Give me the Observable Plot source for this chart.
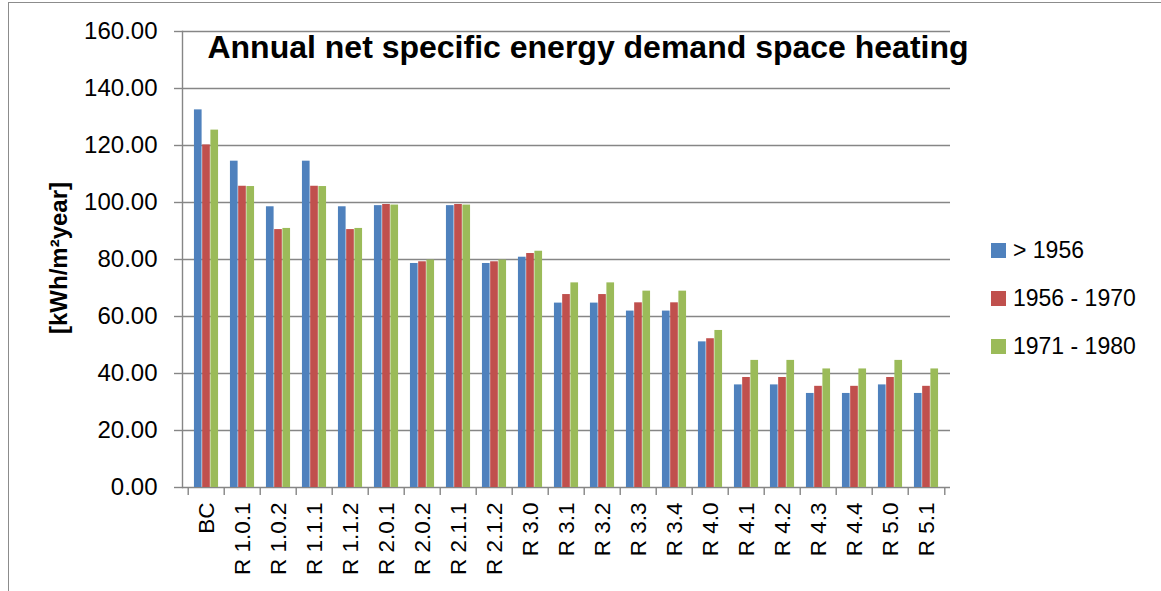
<!DOCTYPE html>
<html>
<head>
<meta charset="utf-8">
<script src="https://cdn.jsdelivr.net/npm/d3@7"></script>
<script src="https://cdn.jsdelivr.net/npm/@observablehq/plot@0.6"></script>
<style>
  html, body { margin: 0; padding: 0; background: #fff; }
  #wrap { position: relative; width: 1161px; height: 591px; overflow: hidden; }
  #border { position: absolute; left: 8px; top: 2px; width: 1200px; height: 700px;
            border-top: 1.5px solid #8c8c8c; border-left: 1.5px solid #8c8c8c; }
  svg { font-family: "Liberation Sans", Arial, sans-serif; }
</style>
</head>
<body>
<div id="wrap"><div id="border"></div></div>
<script>
const categories = ["BC","R 1.0.1","R 1.0.2","R 1.1.1","R 1.1.2","R 2.0.1","R 2.0.2","R 2.1.1","R 2.1.2","R 3.0","R 3.1","R 3.2","R 3.3","R 3.4","R 4.0","R 4.1","R 4.2","R 4.3","R 4.4","R 5.0","R 5.1"];
const series = ["> 1956", "1956 - 1970", "1971 - 1980"];
const valuesBefore1956 = [132.5,114.5,98.5,114.5,98.5,98.9,78.6,98.9,78.6,80.8,64.7,64.7,61.9,61.9,51.1,36.0,36.0,33.0,33.0,36.0,33.0];
const values1956to1970 = [120.2,105.7,90.5,105.7,90.5,99.3,79.2,99.3,79.2,82.1,67.7,67.7,64.8,64.8,52.2,38.6,38.6,35.5,35.5,38.6,35.5];
const values1971to1980 = [125.4,105.6,90.9,105.6,90.9,99.1,79.8,99.1,79.8,82.9,71.8,71.8,68.9,68.9,55.1,44.6,44.6,41.6,41.6,44.6,41.6];
const colors = ["#4F81BD", "#C0504D", "#9BBB59"];
const yTicks = [0, 20, 40, 60, 80, 100, 120, 140, 160];
const title = "Annual net specific energy demand space heating";
const yLabel = "[kWh/m²year]";

const seriesValues = [valuesBefore1956, values1956to1970, values1971to1980];
const rows = [];
series.forEach((s, si) => categories.forEach((c, ci) => rows.push({category: c, series: s, si, value: seriesValues[si][ci]})));

const W = 1161, H = 591;
const mL = 182, mR = 211, mT = 31, mB = 104;
const step = (W - mL - mR) / categories.length;
const barW = step * 0.225;
const groupPad = (step - 3 * barW) / 2;
const grid = "#868686";

const barMarks = series.map((s, si) => Plot.barY(rows.filter(d => d.si === si), {
  x: "category", y: "value", fill: colors[si],
  insetLeft: groupPad + si * barW,
  insetRight: step - (groupPad + (si + 1) * barW)
}));

const chart = Plot.plot({
  width: W, height: H,
  marginLeft: mL, marginRight: mR, marginTop: mT, marginBottom: mB,
  x: {domain: categories, padding: 0, label: null},
  y: {domain: [0, 160], label: null},
  marks: [
    Plot.gridY(yTicks, {stroke: grid, strokeOpacity: 1, strokeWidth: 1.4}),
    ...barMarks,
    Plot.frame({anchor: "left", stroke: grid, strokeWidth: 1.4}),
    Plot.ruleX(categories, {x: d => d, dx: -step / 2, y1: 0, y2: 0, insetBottom: -8, stroke: grid, strokeWidth: 1.4}),
    Plot.ruleX(categories.slice(-1), {x: d => d, dx: step / 2, y1: 0, y2: 0, insetBottom: -8, stroke: grid, strokeWidth: 1.4}),
    Plot.axisY(yTicks, {tickSize: 8, tickPadding: 17, tickFormat: d => d.toFixed(2), fontSize: 24, stroke: grid, strokeWidth: 1.4, fill: "#000", label: null}),
    Plot.axisX({tickSize: 0, tickRotate: -90, tickPadding: 15, fontSize: 22.5, fill: "#000", label: null})
  ]
});

const wrap = document.getElementById("wrap");
chart.style.position = "absolute";
chart.style.left = "0px";
chart.style.top = "0px";
chart.style.background = "transparent";
wrap.appendChild(chart);

const svg = d3.select(chart);
svg.append("text")
  .attr("x", 588).attr("y", 58)
  .attr("text-anchor", "middle")
  .attr("font-size", 32).attr("font-weight", "bold").attr("fill", "#000")
  .text(title);

svg.append("text")
  .attr("transform", "translate(67,258) rotate(-90)")
  .attr("text-anchor", "middle")
  .attr("font-size", 24).attr("font-weight", "bold").attr("fill", "#000")
  .text(yLabel);

const legend = svg.append("g").attr("text-anchor", "start");
series.forEach((s, i) => {
  legend.append("rect").attr("x", 991).attr("y", 243 + i * 48).attr("width", 15).attr("height", 15).attr("fill", colors[i]);
  legend.append("text").attr("x", 1013).attr("y", 258 + i * 48).attr("text-anchor", "start").attr("font-size", 23).attr("fill", "#000").text(s);
});
</script>
</body>
</html>
